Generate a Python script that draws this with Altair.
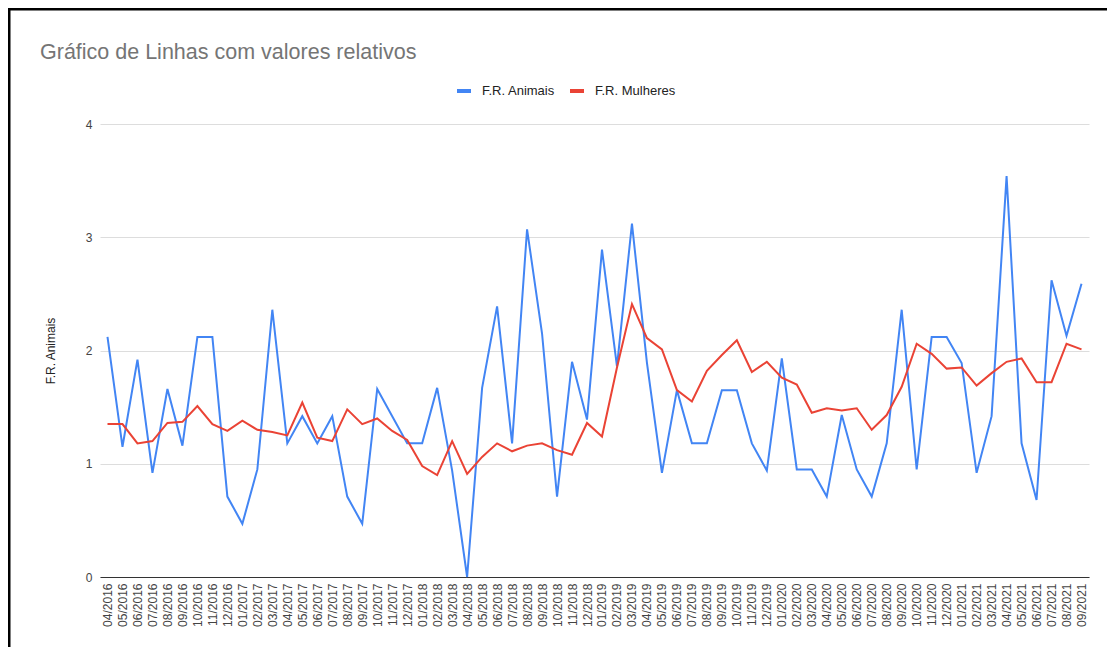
import altair as alt
import pandas as pd

months = [
    "04/2016", "05/2016", "06/2016", "07/2016", "08/2016", "09/2016", "10/2016", "11/2016", "12/2016",
    "01/2017", "02/2017", "03/2017", "04/2017", "05/2017", "06/2017", "07/2017", "08/2017", "09/2017",
    "10/2017", "11/2017", "12/2017",
    "01/2018", "02/2018", "03/2018", "04/2018", "05/2018", "06/2018", "07/2018", "08/2018", "09/2018",
    "10/2018", "11/2018", "12/2018",
    "01/2019", "02/2019", "03/2019", "04/2019", "05/2019", "06/2019", "07/2019", "08/2019", "09/2019",
    "10/2019", "11/2019", "12/2019",
    "01/2020", "02/2020", "03/2020", "04/2020", "05/2020", "06/2020", "07/2020", "08/2020", "09/2020",
    "10/2020", "11/2020", "12/2020",
    "01/2021", "02/2021", "03/2021", "04/2021", "05/2021", "06/2021", "07/2021", "08/2021", "09/2021",
]

fr_animais = [
    2.12, 1.15, 1.92, 0.92, 1.66, 1.16, 2.12, 2.12, 0.71,
    0.47, 0.95, 2.36, 1.18, 1.42, 1.18, 1.42, 0.71, 0.47, 1.66, 1.42, 1.18,
    1.18, 1.67, 0.94, 0.00, 1.67, 2.39, 1.18, 3.07, 2.15, 0.71, 1.90, 1.39,
    2.89, 1.86, 3.12, 1.89, 0.92, 1.65, 1.18, 1.18, 1.65, 1.65, 1.18, 0.94,
    1.93, 0.95, 0.95, 0.71, 1.43, 0.95, 0.71, 1.18, 2.36, 0.95, 2.12, 2.12,
    1.89, 0.92, 1.42, 3.54, 1.18, 0.68, 2.62, 2.13, 2.59,
]

fr_mulheres = [
    1.35, 1.35, 1.18, 1.20, 1.36, 1.37, 1.51, 1.35, 1.29,
    1.38, 1.30, 1.28, 1.25, 1.54, 1.23, 1.20, 1.48, 1.35, 1.40, 1.29, 1.21,
    0.98, 0.90, 1.20, 0.91, 1.06, 1.18, 1.11, 1.16, 1.18, 1.12, 1.08, 1.36,
    1.24, 1.85, 2.41, 2.11, 2.01, 1.65, 1.55, 1.82, 1.96, 2.09, 1.81, 1.90,
    1.76, 1.70, 1.45, 1.49, 1.47, 1.49, 1.30, 1.43, 1.68, 2.06, 1.97, 1.84,
    1.85, 1.69, 1.80, 1.90, 1.93, 1.72, 1.72, 2.06, 2.01,
]

series_names = ["F.R. Animais", "F.R. Mulheres"]
series_colors = ["#4285F4", "#EA4335"]
chart_title = ["Gráfico de Linhas com valores relativos"]

df = pd.concat([
    pd.DataFrame({"mes": months, "valor": fr_animais, "serie": series_names[0], "ordem": range(len(months))}),
    pd.DataFrame({"mes": months, "valor": fr_mulheres, "serie": series_names[1], "ordem": range(len(months))}),
])
title_df = pd.DataFrame({"titulo": chart_title})

FONT = "Liberation Sans"

lines = alt.Chart(df).mark_line(strokeWidth=2).encode(
    x=alt.X(
        "mes:O",
        sort=months,
        scale=alt.Scale(type="point", padding=0.5),
        axis=alt.Axis(
            title=None,
            labelAngle=270,
            labelFontSize=12,
            labelColor="#444444",
            labelPadding=6,
            ticks=False,
            domainColor="#333333",
            domainWidth=1,
            grid=False,
            labelOverlap=False,
        ),
    ),
    y=alt.Y(
        "valor:Q",
        scale=alt.Scale(domain=[0, 4], nice=False),
        axis=alt.Axis(
            title="F.R. Animais",
            titleFontSize=12,
            titleFontWeight="normal",
            titleColor="#222222",
            titlePadding=28,
            values=[0, 1, 2, 3, 4],
            format="d",
            labelFontSize=12,
            labelColor="#444444",
            labelPadding=8,
            ticks=False,
            domain=False,
            gridColor="#dddddd",
            gridWidth=1,
        ),
    ),
    color=alt.Color(
        "serie:N",
        scale=alt.Scale(domain=series_names, range=series_colors),
        legend=alt.Legend(
            title=None,
            orient="none",
            direction="horizontal",
            legendX=355,
            legendY=-42,
            symbolType="stroke",
            symbolStrokeWidth=4,
            symbolSize=196,
            labelOffset=9,
            labelFontSize=13,
            labelColor="#222222",
            columnPadding=7,
        ),
    ),
    order="ordem:Q",
)

title_text = alt.Chart(title_df).mark_text(
    align="left", baseline="alphabetic", fontSize=21.5, color="#757575", font=FONT
).encode(
    x=alt.value(-60), y=alt.value(-65), text="titulo:N"
)

frame_top = alt.Chart(title_df).mark_rule(color="#000000", strokeWidth=3).encode(
    x=alt.value(-93), x2=alt.value(1030), y=alt.value(-115)
)
frame_left = alt.Chart(title_df).mark_rule(color="#000000", strokeWidth=3).encode(
    x=alt.value(-91), y=alt.value(-116), y2=alt.value(560)
)

chart = alt.layer(lines, title_text, frame_top, frame_left).properties(
    width=989,
    height=453,
    autosize=alt.AutoSizeParams(type="none"),
    padding={"left": 92, "top": 116, "right": 18, "bottom": 70},
).configure(font=FONT).configure_view(stroke=None)

chart.save("out.html", embed_options={"renderer": "svg", "actions": False})
